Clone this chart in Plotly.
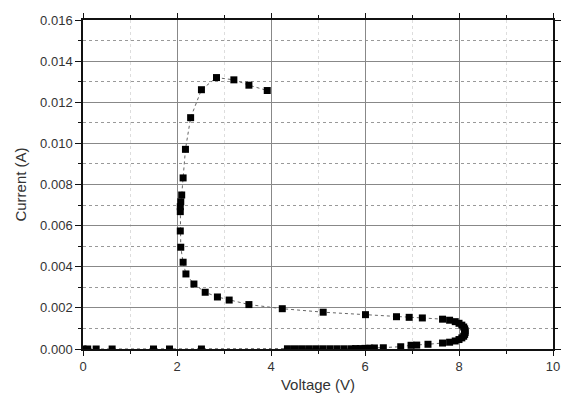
import plotly.graph_objects as go

# Voltage (V) and current (A), in sweep order
voltage = [0.0, 0.1, 0.28, 0.62, 1.5, 1.84, 2.52,
           4.35, 4.5, 4.65, 4.8, 4.95, 5.1, 5.25, 5.4, 5.55, 5.7, 5.8, 5.9, 6.0, 6.1, 6.2,
           6.39, 6.76, 6.98, 7.10, 7.34,
           7.65, 7.80, 7.92, 8.00, 8.06, 8.10, 8.12, 8.13, 8.13, 8.12, 8.10, 8.06, 8.00, 7.92, 7.80, 7.65,
           7.22, 6.94, 6.67, 6.01, 5.11, 4.24, 3.53, 3.11, 2.86, 2.60, 2.36, 2.19, 2.13,
           2.08, 2.07, 2.07, 2.07, 2.08, 2.10, 2.13, 2.18, 2.29, 2.52, 2.84, 3.21, 3.53, 3.92]
current = [0.0, 0.0, 0.0, 0.0, 0.0, 0.0, 0.0,
           0.00001, 0.00001, 0.00001, 0.00001, 0.00001, 0.00001, 0.00001, 0.00001, 0.00001, 0.00001,
           0.00002, 0.00002, 0.00003, 0.00004, 0.00005,
           0.00006, 0.00011, 0.00018, 0.00019, 0.00023,
           0.00029, 0.00033, 0.00039, 0.00046, 0.00054, 0.00062, 0.00071, 0.00080, 0.00089, 0.00098,
           0.00107, 0.00116, 0.00125, 0.00133, 0.00140, 0.00145,
           0.00151, 0.00154, 0.00157, 0.00167, 0.00179, 0.00196, 0.00216, 0.00238, 0.00253, 0.00276,
           0.00316, 0.00365, 0.00422,
           0.00495, 0.00574, 0.00668, 0.00692, 0.00716, 0.00749, 0.00832, 0.00971, 0.01125, 0.01261,
           0.01320, 0.01309, 0.01283, 0.01257]

x_ticks = [0, 2, 4, 6, 8, 10]
y_ticks = [0.000, 0.002, 0.004, 0.006, 0.008, 0.010, 0.012, 0.014, 0.016]
y_tick_labels = ["0.000", "0.002", "0.004", "0.006", "0.008", "0.010", "0.012", "0.014", "0.016"]

fig = go.Figure()
fig.add_trace(go.Scatter(
    x=voltage, y=current, mode="lines+markers",
    line=dict(color="#666666", width=1, dash="dot"),
    marker=dict(symbol="square", size=7, color="black"),
    showlegend=False, cliponaxis=True,
))

font = "Liberation Sans, Arial, sans-serif"
frame = "#111111"
fig.update_layout(
    width=561, height=398,
    margin=dict(l=83, r=8, t=20, b=49),
    paper_bgcolor="white", plot_bgcolor="white",
    font=dict(family=font, color="#333333", size=13),
    showlegend=False,
    xaxis=dict(
        range=[0, 10], tickvals=x_ticks, ticktext=[str(v) for v in x_ticks],
        showline=True, linecolor=frame, linewidth=1.5, mirror="allticks",
        ticks="outside", ticklen=5, tickcolor=frame,
        showgrid=True, gridcolor="#888888", gridwidth=1,
        zeroline=False, automargin=False,
        minor=dict(dtick=1, ticks="outside", ticklen=3, tickcolor=frame,
                   showgrid=True, gridcolor="#dddddd", griddash="dot"),
        title=dict(text="Voltage (V)", font=dict(size=15), standoff=6),
        tickfont=dict(size=13),
    ),
    yaxis=dict(
        range=[0, 0.016], tickvals=y_ticks, ticktext=y_tick_labels,
        showline=True, linecolor=frame, linewidth=1.5, mirror="allticks",
        ticks="outside", ticklen=6, tickcolor=frame,
        showgrid=True, gridcolor="#888888", gridwidth=1,
        zeroline=False, automargin=False,
        minor=dict(dtick=0.001, ticks="outside", ticklen=3, tickcolor=frame,
                   showgrid=True, gridcolor="#999999", griddash="dot"),
        title=dict(text="Current (A)", font=dict(size=15), standoff=10),
        tickfont=dict(size=13),
    ),
)

fig.write_html("out.html")
